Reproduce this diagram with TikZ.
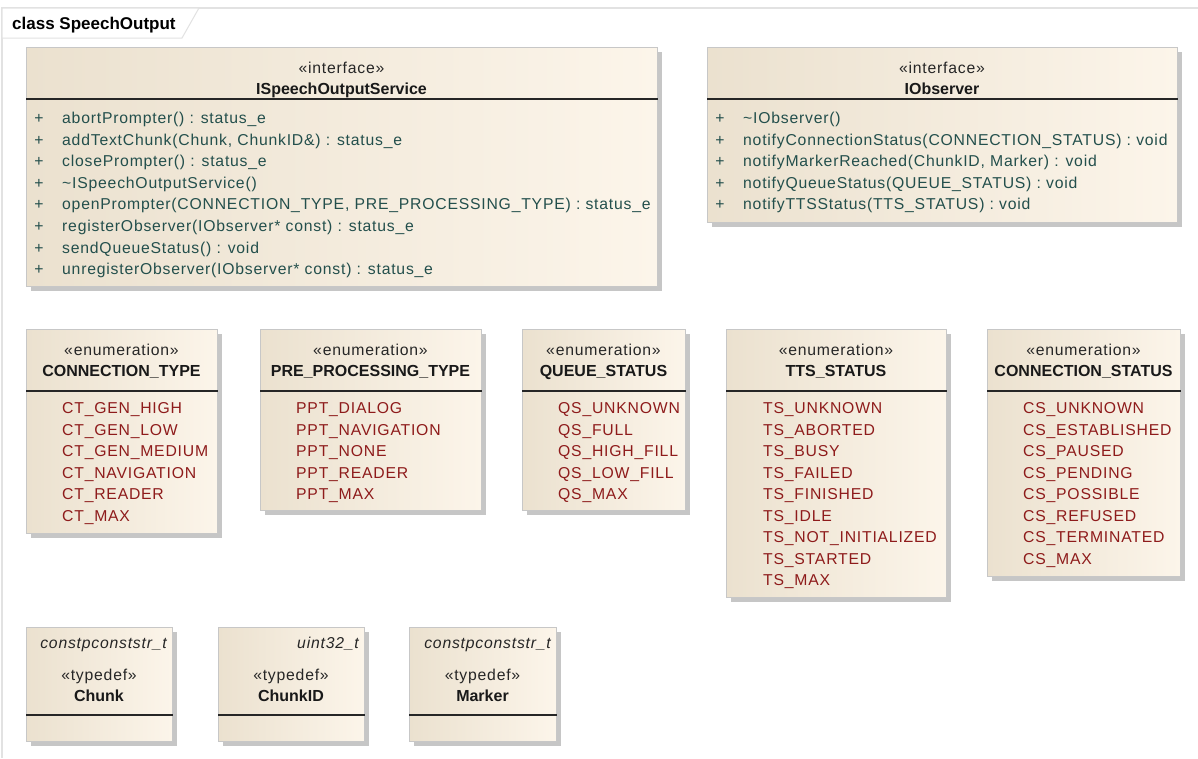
\documentclass[tikz,border=0pt]{standalone}
\usepackage{fontspec}
\setmainfont{Liberation Sans}
\newfontfamily\umlfont{Liberation Sans}[LetterSpace=5]
\usetikzlibrary{shadows}
\definecolor{memb}{HTML}{234F4C}
\definecolor{lit}{HTML}{8E1B1B}
\definecolor{fillL}{HTML}{EBE1CF}
\definecolor{fillR}{HTML}{FCF5EA}
\definecolor{frm}{HTML}{E2E2E2}
\definecolor{shd}{HTML}{C6C6C6}
\tikzset{
  umlbox/.style={draw=black!22, line width=0.6pt, left color=fillL, right color=fillR,
    anchor=north west, inner sep=0pt,
    drop shadow={shadow xshift=5pt, shadow yshift=-5pt, fill=shd, opacity=1}},
  divider/.style={line width=1.6pt, draw=black!85},
  basetxt/.style={inner sep=0pt, font=\umlfont\fontsize{15.75}{18}\selectfont},
  plus/.style={basetxt, anchor=base, text=memb},
  memb/.style={basetxt, anchor=base west, text=memb},
  lit/.style={basetxt, anchor=base west, text=lit},
  stereo/.style={basetxt, anchor=base, text=black!85},
  cname/.style={basetxt, anchor=base, font=\fontsize{16}{18}\selectfont\bfseries, text=black!90},
  tdtype/.style={basetxt, anchor=base east, font=\umlfont\fontsize{15.75}{18}\selectfont\itshape, text=black!85},
  titletxt/.style={inner sep=0pt, anchor=base west, font=\fontsize{17}{18}\selectfont\bfseries}
}
\begin{document}
\begin{tikzpicture}[x=1pt,y=-1pt]
\useasboundingbox (0,0) rectangle (1198,758);
\fill[white] (0,0) rectangle (1198,758);
% frame
\draw[frm, line width=1.2pt] (2,758) -- (2,8) -- (1198,8);
\draw[frm, line width=1pt, fill=white] (2,8) -- (199,8) -- (182,38) -- (2,38) -- cycle;
\node[titletxt] (title) at (12,29) {class SpeechOutput};

% ---------- ISpeechOutputService
\node[umlbox, minimum width=631pt, minimum height=239pt] (iss) at (26,47) {};
\draw[divider] (iss.west |- 0,99) -- (iss.east |- 0,99);
\node[stereo] (iss-st) at (341.5,73.5) {«interface»};
\node[cname] (iss-n) at (341.5,94.5) {ISpeechOutputService};
\foreach \t [count=\i] in {
  abortPrompter() : status\_e,
  {addTextChunk(Chunk, ChunkID\&) : status\_e},
  closePrompter() : status\_e,
  \textasciitilde ISpeechOutputService(),
  {openPrompter(CONNECTION\_TYPE, PRE\_PROCESSING\_TYPE) : status\_e},
  registerObserver(IObserver* const) : status\_e,
  sendQueueStatus() : void,
  unregisterObserver(IObserver* const) : status\_e}
{
  \node[plus] (iss-p\i) at (39,{123.5+21.6*(\i-1)}) {+};
  \node[memb] (iss-m\i) at (62,{123.5+21.6*(\i-1)}) {\t};
}

% ---------- IObserver
\node[umlbox, minimum width=470pt, minimum height=175pt] (iob) at (707,47) {};
\draw[divider] (iob.west |- 0,99) -- (iob.east |- 0,99);
\node[stereo] (iob-st) at (942,73.5) {«interface»};
\node[cname] (iob-n) at (942,94.5) {IObserver};
\foreach \t [count=\i] in {
  \textasciitilde IObserver(),
  notifyConnectionStatus(CONNECTION\_STATUS) : void,
  {notifyMarkerReached(ChunkID, Marker) : void},
  notifyQueueStatus(QUEUE\_STATUS) : void,
  notifyTTSStatus(TTS\_STATUS) : void}
{
  \node[plus] (iob-p\i) at (720,{123.5+21.6*(\i-1)}) {+};
  \node[memb] (iob-m\i) at (743,{123.5+21.6*(\i-1)}) {\t};
}

% ---------- enumerations
\node[umlbox, minimum width=191pt, minimum height=204pt] (ct) at (26,329) {};
\draw[divider] (ct.west |- 0,391) -- (ct.east |- 0,391);
\node[stereo] (ct-st) at (121.5,355.5) {«enumeration»};
\node[cname] (ct-n) at (121.5,376.5) {CONNECTION\_TYPE};
\foreach \t [count=\i] in {CT\_GEN\_HIGH, CT\_GEN\_LOW, CT\_GEN\_MEDIUM, CT\_NAVIGATION, CT\_READER, CT\_MAX}
  \node[lit] (ct-l\i) at (62,{413.5+21.5*(\i-1)}) {\t};

\node[umlbox, minimum width=221pt, minimum height=181pt] (ppt) at (260,329) {};
\draw[divider] (ppt.west |- 0,391) -- (ppt.east |- 0,391);
\node[stereo] (ppt-st) at (370.5,355.5) {«enumeration»};
\node[cname] (ppt-n) at (370.5,376.5) {PRE\_PROCESSING\_TYPE};
\foreach \t [count=\i] in {PPT\_DIALOG, PPT\_NAVIGATION, PPT\_NONE, PPT\_READER, PPT\_MAX}
  \node[lit] (ppt-l\i) at (296,{413.5+21.5*(\i-1)}) {\t};

\node[umlbox, minimum width=163pt, minimum height=181pt] (qs) at (522,329) {};
\draw[divider] (qs.west |- 0,391) -- (qs.east |- 0,391);
\node[stereo] (qs-st) at (603.5,355.5) {«enumeration»};
\node[cname] (qs-n) at (603.5,376.5) {QUEUE\_STATUS};
\foreach \t [count=\i] in {QS\_UNKNOWN, QS\_FULL, QS\_HIGH\_FILL, QS\_LOW\_FILL, QS\_MAX}
  \node[lit] (qs-l\i) at (558,{413.5+21.5*(\i-1)}) {\t};

\node[umlbox, minimum width=220pt, minimum height=268pt] (ts) at (726,329) {};
\draw[divider] (ts.west |- 0,391) -- (ts.east |- 0,391);
\node[stereo] (ts-st) at (836,355.5) {«enumeration»};
\node[cname] (ts-n) at (836,376.5) {TTS\_STATUS};
\foreach \t [count=\i] in {TS\_UNKNOWN, TS\_ABORTED, TS\_BUSY, TS\_FAILED, TS\_FINISHED, TS\_IDLE, TS\_NOT\_INITIALIZED, TS\_STARTED, TS\_MAX}
  \node[lit] (ts-l\i) at (763,{413.5+21.5*(\i-1)}) {\t};

\node[umlbox, minimum width=193pt, minimum height=247pt] (cs) at (987,329) {};
\draw[divider] (cs.west |- 0,391) -- (cs.east |- 0,391);
\node[stereo] (cs-st) at (1083.5,355.5) {«enumeration»};
\node[cname] (cs-n) at (1083.5,376.5) {CONNECTION\_STATUS};
\foreach \t [count=\i] in {CS\_UNKNOWN, CS\_ESTABLISHED, CS\_PAUSED, CS\_PENDING, CS\_POSSIBLE, CS\_REFUSED, CS\_TERMINATED, CS\_MAX}
  \node[lit] (cs-l\i) at (1023,{413.5+21.5*(\i-1)}) {\t};

% ---------- typedefs
\node[umlbox, minimum width=146pt, minimum height=114pt] (chunk) at (26,627) {};
\draw[divider] (chunk.west |- 0,715) -- (chunk.east |- 0,715);
\node[tdtype] (chunk-t) at (167,648.5) {constpconststr\_t};
\node[stereo] (chunk-st) at (99,680.5) {«typedef»};
\node[cname] (chunk-n) at (99,701.5) {Chunk};

\node[umlbox, minimum width=146pt, minimum height=114pt] (cid) at (218,627) {};
\draw[divider] (cid.west |- 0,715) -- (cid.east |- 0,715);
\node[tdtype] (cid-t) at (359,648.5) {uint32\_t};
\node[stereo] (cid-st) at (291,680.5) {«typedef»};
\node[cname] (cid-n) at (291,701.5) {ChunkID};

\node[umlbox, minimum width=147pt, minimum height=114pt] (mk) at (409,627) {};
\draw[divider] (mk.west |- 0,715) -- (mk.east |- 0,715);
\node[tdtype] (mk-t) at (551,648.5) {constpconststr\_t};
\node[stereo] (mk-st) at (482.5,680.5) {«typedef»};
\node[cname] (mk-n) at (482.5,701.5) {Marker};
\end{tikzpicture}
\end{document}
